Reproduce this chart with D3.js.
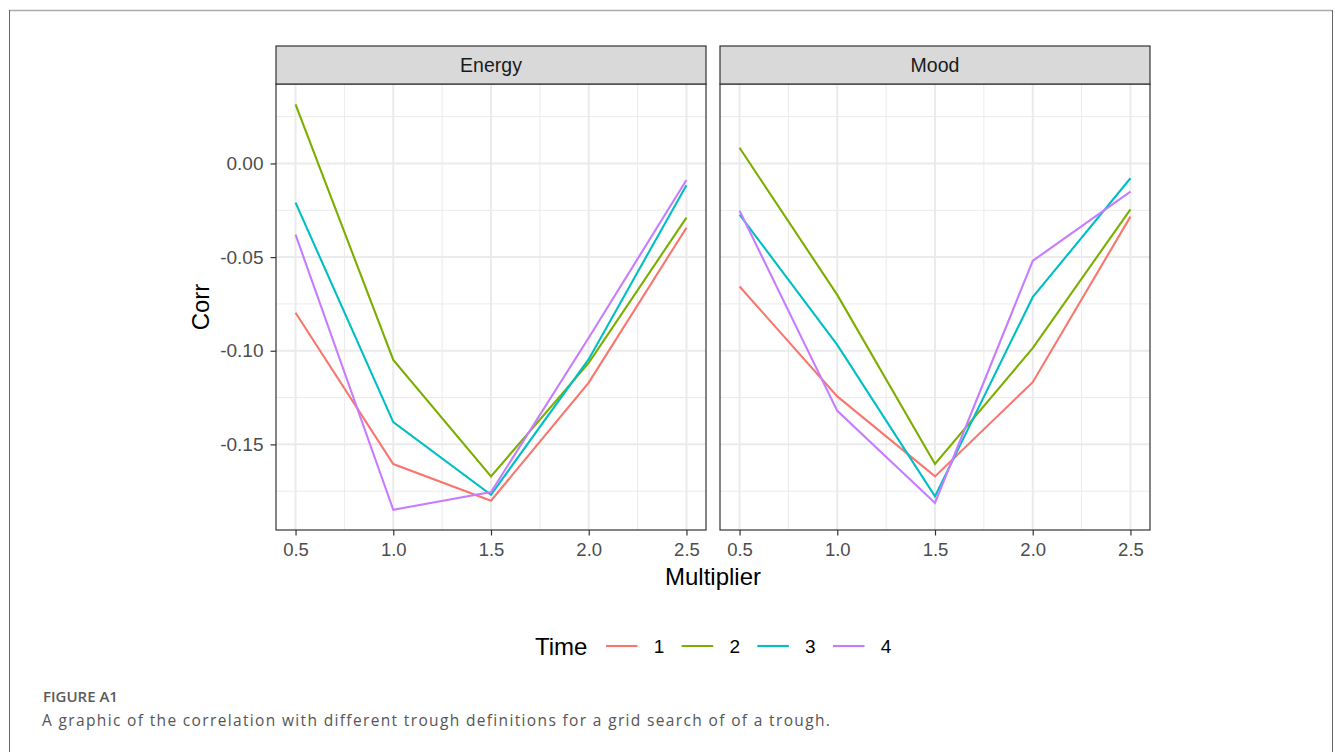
<!DOCTYPE html>
<html>
<head>
<meta charset="utf-8">
<script src="https://cdn.jsdelivr.net/npm/d3@7"></script>
<style>
  body { margin: 0; background: #fff; }
  svg { display: block; }
  .caption-head { font-family: "Open Sans", sans-serif; font-size: 15px; font-weight: 600; fill: #5a5a5a; }
  .caption { font-family: "Open Sans", sans-serif; font-size: 15.5px; letter-spacing: 1.35px; fill: #555; }
</style>
</head>
<body>
<svg id="chart" width="1335" height="752"></svg>
<script>
// data
const multipliers = [0.5, 1.0, 1.5, 2.0, 2.5];
const panels = ['Energy', 'Mood'];
const timeLabels = ['1', '2', '3', '4'];
const colors = ['#F8766D', '#7CAE00', '#00BFC4', '#C77CFF'];

const energy1 = [-0.0797, -0.1605, -0.1801, -0.1170, -0.0343];
const energy2 = [0.0316, -0.1049, -0.1671, -0.1065, -0.0289];
const energy3 = [-0.0209, -0.1381, -0.1769, -0.1045, -0.0116];
const energy4 = [-0.0380, -0.1849, -0.1755, -0.0931, -0.0088];

const mood1 = [-0.0657, -0.1244, -0.1671, -0.1168, -0.0284];
const mood2 = [0.0084, -0.0702, -0.1605, -0.0986, -0.0245];
const mood3 = [-0.0273, -0.0969, -0.1778, -0.0714, -0.0079];
const mood4 = [-0.0252, -0.1321, -0.1813, -0.0520, -0.0150];

const yTicks = [0.00, -0.05, -0.10, -0.15];
const yMinor = [0.025, -0.025, -0.075, -0.125, -0.175];
const xTicks = [0.5, 1.0, 1.5, 2.0, 2.5];
const xMinor = [0.75, 1.25, 1.75, 2.25];

const seriesByPanel = {
  Energy: [energy1, energy2, energy3, energy4],
  Mood: [mood1, mood2, mood3, mood4]
};

const font = 'Liberation Sans, Arial, sans-serif';
const svg = d3.select('#chart');

// outer figure frame
svg.append('line').attr('x1', 9).attr('x2', 1332).attr('y1', 10.5).attr('y2', 10.5)
  .attr('stroke', '#aaa').attr('stroke-width', 1.5);
svg.append('line').attr('x1', 9.5).attr('x2', 9.5).attr('y1', 10).attr('y2', 752)
  .attr('stroke', '#666').attr('stroke-width', 1);
svg.append('line').attr('x1', 1332.5).attr('x2', 1332.5).attr('y1', 10).attr('y2', 752)
  .attr('stroke', '#666').attr('stroke-width', 1);

// panel geometry
const panelLeft = [276, 720];
const panelW = 430;
const stripTop = 46;
const stripH = 38;
const panelTop = stripTop + stripH;
const panelBottom = 530;

// ggplot style 5% expansion
const allVals = Object.values(seriesByPanel).flat(2);
const [ymin, ymax] = d3.extent(allVals);
const yPad = (ymax - ymin) * 0.05;
const y = d3.scaleLinear().domain([ymin - yPad, ymax + yPad]).range([panelBottom, panelTop]);
const xPad = (2.5 - 0.5) * 0.05;

panels.forEach((name, p) => {
  const x = d3.scaleLinear().domain([0.5 - xPad, 2.5 + xPad])
    .range([panelLeft[p], panelLeft[p] + panelW]);
  const g = svg.append('g');

  // minor grid
  g.selectAll('.ymin').data(yMinor).join('line')
    .attr('x1', panelLeft[p]).attr('x2', panelLeft[p] + panelW)
    .attr('y1', d => y(d)).attr('y2', d => y(d))
    .attr('stroke', '#ebebeb').attr('stroke-width', 1);
  g.selectAll('.xmin').data(xMinor).join('line')
    .attr('y1', panelTop).attr('y2', panelBottom)
    .attr('x1', d => x(d)).attr('x2', d => x(d))
    .attr('stroke', '#ebebeb').attr('stroke-width', 1);
  // major grid
  g.selectAll('.ymaj').data(yTicks).join('line')
    .attr('x1', panelLeft[p]).attr('x2', panelLeft[p] + panelW)
    .attr('y1', d => y(d)).attr('y2', d => y(d))
    .attr('stroke', '#ebebeb').attr('stroke-width', 2);
  g.selectAll('.xmaj').data(xTicks).join('line')
    .attr('y1', panelTop).attr('y2', panelBottom)
    .attr('x1', d => x(d)).attr('x2', d => x(d))
    .attr('stroke', '#ebebeb').attr('stroke-width', 2);

  // lines
  const line = d3.line().x((d, i) => x(multipliers[i])).y(d => y(d));
  seriesByPanel[name].forEach((vals, k) => {
    g.append('path').datum(vals).attr('d', line)
      .attr('fill', 'none').attr('stroke', colors[k]).attr('stroke-width', 2.1);
  });

  // panel border
  g.append('rect').attr('x', panelLeft[p]).attr('y', panelTop)
    .attr('width', panelW).attr('height', panelBottom - panelTop)
    .attr('fill', 'none').attr('stroke', '#333').attr('stroke-width', 1.2);

  // strip
  g.append('rect').attr('x', panelLeft[p]).attr('y', stripTop)
    .attr('width', panelW).attr('height', stripH)
    .attr('fill', '#d9d9d9').attr('stroke', '#333').attr('stroke-width', 1.2);
  g.append('text').attr('x', panelLeft[p] + panelW / 2).attr('y', stripTop + stripH / 2 + 7)
    .attr('text-anchor', 'middle').attr('font-family', font)
    .attr('font-size', 19.5).attr('fill', '#1a1a1a').text(name);

  // x axis
  const xAxis = d3.axisBottom(x).tickValues(xTicks).tickFormat(d3.format('.1f'))
    .tickSize(5.5).tickPadding(7);
  const xa = g.append('g').attr('transform', `translate(0,${panelBottom})`).call(xAxis);
  xa.select('.domain').remove();
  xa.selectAll('line').attr('stroke', '#333').attr('stroke-width', 1.2);
  xa.selectAll('text').attr('font-family', font)
    .attr('font-size', 18.5).attr('fill', '#4d4d4d');

  // y axis only on first panel
  if (p === 0) {
    const yAxis = d3.axisLeft(y).tickValues(yTicks)
      .tickFormat(d => d3.format('.2f')(d).replace('−', '-'))
      .tickSize(5.5).tickPadding(7);
    const ya = g.append('g').attr('transform', `translate(${panelLeft[p]},0)`).call(yAxis);
    ya.select('.domain').remove();
    ya.selectAll('line').attr('stroke', '#333').attr('stroke-width', 1.2);
    ya.selectAll('text').attr('font-family', font)
      .attr('font-size', 19).attr('fill', '#4d4d4d');
  }
});

// axis titles
svg.append('text').attr('x', 713).attr('y', 585).attr('text-anchor', 'middle')
  .attr('font-family', font).attr('font-size', 24)
  .attr('fill', '#000').text('Multiplier');
svg.append('text').attr('transform', `translate(209,${(panelTop + panelBottom) / 2}) rotate(-90)`)
  .attr('text-anchor', 'middle')
  .attr('font-family', font).attr('font-size', 24)
  .attr('fill', '#000').text('Corr');

// legend
const legend = svg.append('g');
legend.append('text').attr('x', 535).attr('y', 655)
  .attr('font-family', font).attr('font-size', 24)
  .attr('fill', '#000').text('Time');
const keyX = d3.scalePoint().domain(timeLabels).range([606, 833]);
timeLabels.forEach((t, k) => {
  legend.append('line').attr('x1', keyX(t)).attr('x2', keyX(t) + 31.5)
    .attr('y1', 646).attr('y2', 646).attr('stroke', colors[k]).attr('stroke-width', 2.1);
  legend.append('text').attr('x', keyX(t) + 53).attr('y', 653)
    .attr('text-anchor', 'middle')
    .attr('font-family', font).attr('font-size', 19)
    .attr('fill', '#000').text(t);
});

// caption
svg.append('text').attr('class', 'caption-head').attr('x', 43).attr('y', 702).text('FIGURE A1');
svg.append('text').attr('class', 'caption').attr('x', 42).attr('y', 726)
  .text('A graphic of the correlation with different trough definitions for a grid search of of a trough.');
</script>
</body>
</html>
